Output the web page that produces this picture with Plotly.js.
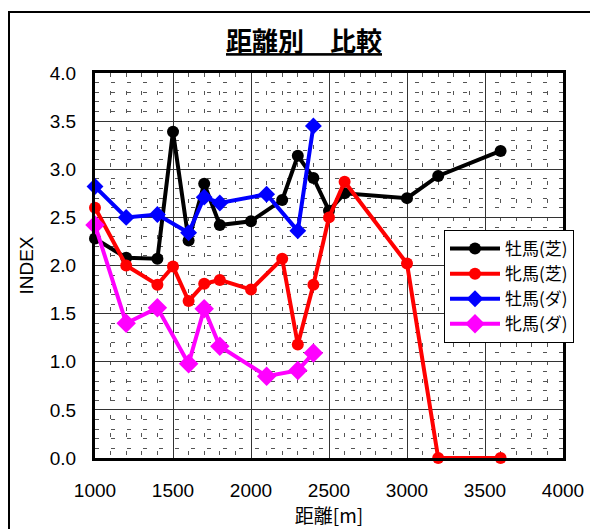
<!DOCTYPE html>
<html>
<head>
<meta charset="utf-8">
<script src="https://cdn.plot.ly/plotly-3.0.1.min.js"></script>
<style>html,body{margin:0;padding:0;background:#fff;}</style>
</head>
<body>
<div id="chart" style="width:590px;height:529px;"></div>
<script>
// ---- data ----
const seriesNames = ["牡馬(芝)", "牝馬(芝)", "牡馬(ダ)", "牝馬(ダ)"];

const maleTurfX   = [1000, 1200, 1400, 1500, 1600, 1700, 1800, 2000, 2200, 2300, 2400, 2500, 2600, 3000, 3200, 3600];
const maleTurfY   = [2.28, 2.08, 2.07, 3.39, 2.26, 2.85, 2.42, 2.46, 2.68, 3.14, 2.91, 2.57, 2.75, 2.70, 2.93, 3.19];

const femaleTurfX = [1000, 1200, 1400, 1500, 1600, 1700, 1800, 2000, 2200, 2300, 2400, 2500, 2600, 3000, 3200, 3600];
const femaleTurfY = [2.60, 2.00, 1.80, 1.99, 1.63, 1.81, 1.85, 1.75, 2.07, 1.18, 1.80, 2.50, 2.87, 2.02, 0.00, 0.00];

const maleDirtX   = [1000, 1200, 1400, 1600, 1700, 1800, 2100, 2300, 2400];
const maleDirtY   = [2.82, 2.50, 2.53, 2.34, 2.71, 2.65, 2.74, 2.36, 3.45];

const femaleDirtX = [1000, 1200, 1400, 1600, 1700, 1800, 2100, 2300, 2400];
const femaleDirtY = [2.42, 1.40, 1.56, 0.98, 1.55, 1.16, 0.85, 0.91, 1.09];

const titleText = "距離別　比較";
const xTitle = "距離[m]";
const yTitle = "INDEX";

// ---- chart ----
const FONT = "'Liberation Sans', 'Noto Sans CJK JP', sans-serif";

function mk(x, y, name, color, symbol, size) {
  return {
    x: x, y: y, name: name, type: 'scatter', mode: 'lines+markers',
    line: {color: color, width: 4},
    marker: {color: color, symbol: symbol, size: size},
    cliponaxis: false
  };
}

const traces = [
  mk(maleTurfX, maleTurfY, seriesNames[0], '#000000', 'circle', 12),
  mk(femaleTurfX, femaleTurfY, seriesNames[1], '#ff0000', 'circle', 12),
  mk(maleDirtX, maleDirtY, seriesNames[2], '#0000ff', 'diamond', 13),
  mk(femaleDirtX, femaleDirtY, seriesNames[3], '#ff00ff', 'diamond', 15)
];

const layout = {
  width: 590, height: 529, autosize: false,
  margin: {l: 95, r: 27, t: 73, b: 71},
  paper_bgcolor: '#fff', plot_bgcolor: '#fff',
  font: {family: FONT, color: '#000', size: 18},
  title: {
    text: '<b>' + titleText + '</b>',
    font: {family: "'Noto Sans CJK JP', sans-serif", size: 26, color: '#000', lineposition: 'under'},
    xref: 'container', x: 304 / 590, xanchor: 'center',
    yref: 'container', y: 1 - 42 / 529, yanchor: 'middle'
  },
  xaxis: {
    range: [1000, 4000], dtick: 500, tick0: 1000,
    showgrid: true, gridcolor: '#333', gridwidth: 1,
    minor: {dtick: 100, showgrid: true, gridcolor: '#555', gridwidth: 1, griddash: '4px,14px'},
    showline: true, linecolor: '#000', linewidth: 3, mirror: true,
    ticks: '', zeroline: false,
    tickfont: {size: 19, family: FONT},
    ticklabelstandoff: 13,
    title: {text: xTitle, font: {size: 19, family: "'Noto Sans CJK JP', sans-serif"}, standoff: 2}
  },
  yaxis: {
    range: [0, 4], dtick: 0.5, tick0: 0, tickformat: '.1f',
    showgrid: true, gridcolor: '#333', gridwidth: 1,
    minor: {dtick: 0.1, showgrid: true, gridcolor: '#555', gridwidth: 1, griddash: '4px,12px'},
    showline: true, linecolor: '#000', linewidth: 3, mirror: true,
    ticks: '', zeroline: false,
    tickfont: {size: 19, family: FONT},
    ticklabelstandoff: 12,
    title: {text: yTitle, font: {size: 19, family: FONT}, standoff: 12}
  },
  showlegend: true,
  legend: {
    x: (444 - 95) / 468, xanchor: 'left',
    y: (458 - 230) / 385, yanchor: 'top',
    bgcolor: '#fff', bordercolor: '#000', borderwidth: 1,
    font: {size: 17, family: "'Noto Sans CJK JP', sans-serif"},
    tracegroupgap: 0, itemwidth: 50
  },
  shapes: [{
    type: 'rect', xref: 'paper', yref: 'paper',
    x0: (9 - 95) / 468, x1: 1.2, y0: -0.3, y1: (458 - 12) / 385,
    line: {color: '#000', width: 2}, fillcolor: 'rgba(0,0,0,0)', layer: 'below'
  }]
};

Plotly.newPlot('chart', traces, layout, {displayModeBar: false, staticPlot: true});
</script>
</body>
</html>
